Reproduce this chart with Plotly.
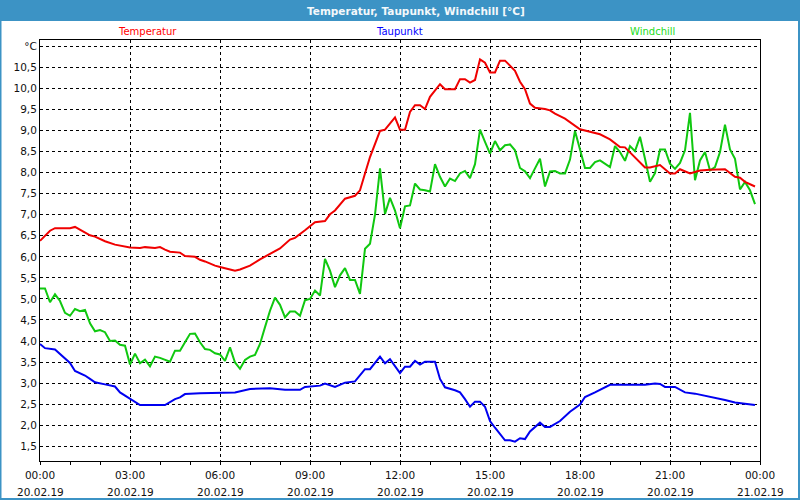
import pandas as pd
import plotly.graph_objects as go

# ---------------- data ----------------
day_start = "2019-02-20 00:00"

temp_minutes = [0, 20, 30, 60, 70, 80, 100, 110, 130, 150, 160, 180, 200, 210, 230, 240, 250, 260, 280, 290,
                310, 320, 330, 350, 360, 390, 400, 420, 440, 460, 480, 500, 510, 530, 550, 570, 580, 590, 610, 630,
                640, 650, 660, 680, 690, 710, 720, 730, 740, 750, 760, 770, 780, 800, 810, 830, 840, 850, 860, 870,
                880, 890, 900, 910, 920, 930, 950, 960, 970, 980, 990, 1010, 1020, 1030, 1050, 1080, 1100, 1120,
                1140, 1160, 1170, 1190, 1210, 1220, 1240, 1260, 1270, 1280, 1300, 1320, 1340, 1370, 1390, 1400,
                1410, 1430]
temp_values = [6.38, 6.62, 6.68, 6.68, 6.71, 6.64, 6.51, 6.48, 6.37, 6.29, 6.27, 6.22, 6.21, 6.23, 6.21, 6.23, 6.17,
               6.12, 6.10, 6.02, 6.00, 5.93, 5.89, 5.79, 5.76, 5.67, 5.70, 5.79, 5.94, 6.07, 6.20, 6.41, 6.45, 6.63,
               6.82, 6.85, 7.01, 7.10, 7.38, 7.45, 7.58, 7.98, 8.37, 8.99, 9.02, 9.31, 9.02, 9.02, 9.44, 9.60, 9.60,
               9.51, 9.80, 10.10, 9.98, 9.98, 10.22, 10.22, 10.14, 10.20, 10.69, 10.61, 10.38, 10.38, 10.66, 10.66,
               10.42, 10.16, 9.98, 9.64, 9.54, 9.51, 9.48, 9.40, 9.28, 9.03, 8.97, 8.91, 8.79, 8.61, 8.60, 8.35,
               8.12, 8.12, 8.18, 7.98, 7.98, 8.08, 7.98, 8.05, 8.07, 8.08, 7.90, 7.88, 7.78, 7.67]

dew_minutes = [0, 10, 30, 40, 60, 70, 90, 100, 110, 130, 150, 160, 180, 200, 250, 270, 280, 290, 320, 360, 390, 420,
               460, 490, 520, 530, 560, 570, 590, 610, 630, 650, 660, 680, 690, 700, 720, 730, 740, 750, 760, 770,
               790, 800, 810, 830, 840, 850, 860, 870, 880, 890, 900, 910, 930, 940, 950, 960, 970, 980, 1000, 1010,
               1020, 1040, 1060, 1080, 1090, 1110, 1140, 1210, 1230, 1240, 1250, 1270, 1290, 1310, 1330, 1350, 1370,
               1390, 1410, 1420, 1430]
dew_values = [3.93, 3.83, 3.80, 3.69, 3.48, 3.29, 3.18, 3.10, 3.02, 2.97, 2.92, 2.78, 2.62, 2.48, 2.48, 2.62, 2.66,
              2.74, 2.76, 2.77, 2.78, 2.86, 2.88, 2.84, 2.84, 2.91, 2.94, 2.99, 2.91, 3.01, 3.04, 3.33, 3.33, 3.63,
              3.47, 3.57, 3.24, 3.39, 3.39, 3.53, 3.44, 3.51, 3.51, 3.10, 2.90, 2.83, 2.78, 2.62, 2.44, 2.56, 2.56,
              2.44, 2.10, 1.94, 1.64, 1.64, 1.61, 1.69, 1.67, 1.85, 2.06, 1.96, 1.96, 2.10, 2.32, 2.49, 2.67, 2.78,
              2.96, 2.96, 2.99, 2.98, 2.91, 2.91, 2.78, 2.75, 2.70, 2.66, 2.60, 2.54, 2.51, 2.48, 2.48]

# windchill: one reading every 10 minutes, 00:00 .. 23:50
chill_values = [5.25, 5.25, 4.92, 5.11, 4.95, 4.67, 4.60, 4.76, 4.71, 4.74, 4.42, 4.23, 4.26, 4.21, 4.00, 4.01,
                3.91, 3.89, 3.44, 3.70, 3.47, 3.56, 3.40, 3.63, 3.60, 3.56, 3.51, 3.77, 3.77, 3.97, 4.17, 4.18,
                3.97, 3.81, 3.79, 3.71, 3.68, 3.53, 3.85, 3.49, 3.34, 3.55, 3.63, 3.67, 3.93, 4.33, 4.72, 5.03,
                4.86, 4.56, 4.70, 4.70, 4.60, 4.97, 5.00, 5.20, 5.08, 5.95, 5.67, 5.28, 5.56, 5.73, 5.45, 5.45,
                5.12, 6.19, 6.31, 7.00, 8.10, 7.02, 7.40, 7.10, 6.68, 7.20, 7.22, 7.74, 7.60, 7.58, 7.55, 8.20,
                7.90, 7.67, 7.86, 7.80, 7.98, 8.04, 7.87, 8.20, 9.02, 8.73, 8.45, 8.75, 8.53, 8.65, 8.67, 8.53,
                8.11, 8.03, 7.87, 8.10, 8.33, 7.67, 8.03, 8.04, 7.98, 7.98, 8.31, 8.99, 8.55, 8.11, 8.11, 8.25,
                8.29, 8.21, 8.13, 8.63, 8.49, 8.28, 8.63, 8.51, 8.85, 8.33, 7.78, 7.99, 8.55, 8.55, 8.21, 8.09,
                8.23, 8.53, 9.42, 7.82, 8.29, 8.49, 8.05, 8.13, 8.49, 9.14, 8.55, 8.33, 7.60, 7.78, 7.58, 7.25]

series_names = ["Temperatur", "Taupunkt", "Windchill"]
chart_title = "Temperatur, Taupunkt, Windchill [°C]"

y_tick_values = [1.5, 2.0, 2.5, 3.0, 3.5, 4.0, 4.5, 5.0, 5.5, 6.0, 6.5, 7.0, 7.5, 8.0, 8.5, 9.0, 9.5, 10.0, 10.5, 11.0]
y_tick_labels = ["1,5", "2,0", "2,5", "3,0", "3,5", "4,0", "4,5", "5,0", "5,5", "6,0", "6,5", "7,0", "7,5",
                 "8,0", "8,5", "9,0", "9,5", "10,0", "10,5", "°C"]

x_tick_values = ["2019-02-20 00:00", "2019-02-20 03:00", "2019-02-20 06:00", "2019-02-20 09:00",
                 "2019-02-20 12:00", "2019-02-20 15:00", "2019-02-20 18:00", "2019-02-20 21:00",
                 "2019-02-21 00:00"]
x_tick_times = ["00:00", "03:00", "06:00", "09:00", "12:00", "15:00", "18:00", "21:00", "00:00"]
x_tick_dates = ["20.02.19", "20.02.19", "20.02.19", "20.02.19", "20.02.19", "20.02.19", "20.02.19",
                "20.02.19", "21.02.19"]

# ---------------- build ----------------
t0 = pd.Timestamp(day_start)
temp_x = t0 + pd.to_timedelta(temp_minutes, unit="min")
dew_x = t0 + pd.to_timedelta(dew_minutes, unit="min")
chill_x = pd.date_range(t0, periods=len(chill_values), freq="10min")

RED, BLUE, GREEN = "#f00000", "#0000f0", "#10c810"
FONT = "DejaVu Sans"
TEXT = "#111111"

fig = go.Figure()
fig.add_trace(go.Scatter(x=chill_x, y=chill_values, mode="lines", name=series_names[2],
                         line=dict(color=GREEN, width=2)))
fig.add_trace(go.Scatter(x=dew_x, y=dew_values, mode="lines", name=series_names[1],
                         line=dict(color=BLUE, width=2)))
fig.add_trace(go.Scatter(x=temp_x, y=temp_values, mode="lines", name=series_names[0],
                         line=dict(color=RED, width=2)))

L, R, T, B = 40, 40, 40, 39
W, H = 800, 500
pw, ph = W - L - R, H - T - B


def px_x(px):
    return (px - L) / pw


def px_y(py):
    return 1 + (T - py) / ph


shapes = [
    # title bar
    dict(type="rect", xref="paper", yref="paper", x0=px_x(0), x1=px_x(W), y0=px_y(21), y1=px_y(0),
         fillcolor="#3c93c5", line=dict(width=0), layer="below"),
    # outer frame
    dict(type="rect", xref="paper", yref="paper", x0=px_x(0.5), x1=px_x(W - 1), y0=px_y(H - 1), y1=px_y(0),
         fillcolor="rgba(0,0,0,0)", line=dict(color="#3c93c5", width=2)),
]

annotations = [
    dict(text=f"<b>{chart_title}</b>", xref="paper", yref="paper", x=px_x(416), y=px_y(10.5),
         showarrow=False, xanchor="center", yanchor="middle",
         font=dict(family=FONT, size=10.5, color="#f4f8fb")),
]
for name, color, cx in zip(series_names, ["#ff0000", "#0000ff", "#22dd22"], [147, 399, 652]):
    annotations.append(dict(text=name, xref="paper", yref="paper", x=px_x(cx), y=px_y(32),
                            showarrow=False, xanchor="center", yanchor="middle",
                            font=dict(family=FONT, size=10, color=color)))
# second row of x tick labels (dates)
for xv, dt in zip(x_tick_values, x_tick_dates):
    annotations.append(dict(text=dt, xref="x", yref="paper", x=xv, y=px_y(492),
                            showarrow=False, xanchor="center", yanchor="middle",
                            font=dict(family=FONT, size=10.5, color=TEXT)))

fig.update_layout(
    width=W, height=H,
    margin=dict(l=L, r=R, t=T, b=B, pad=0, autoexpand=False),
    paper_bgcolor="white", plot_bgcolor="white",
    showlegend=False,
    shapes=shapes, annotations=annotations,
    font=dict(family=FONT, size=11, color=TEXT),
)
fig.update_xaxes(
    type="date", range=[x_tick_values[0], x_tick_values[-1]], automargin=False,
    tickmode="array", tickvals=x_tick_values, ticktext=x_tick_times,
    ticks="outside", ticklen=3, tickcolor="black", tickwidth=1, ticklabelstandoff=1,
    minor=dict(ticks="outside", ticklen=3, tickcolor="black", dtick=3600000, showgrid=False),
    showgrid=True, gridcolor="black", gridwidth=1, griddash="3px,3px",
    showline=True, linecolor="black", linewidth=1, mirror=True,
    zeroline=False, tickfont=dict(family=FONT, size=10.5, color=TEXT),
)
fig.update_yaxes(
    range=[1.15, 11.15], automargin=False,
    tickmode="array", tickvals=y_tick_values, ticktext=y_tick_labels,
    ticks="", showgrid=True, gridcolor="black", gridwidth=1, griddash="3px,3px",
    showline=True, linecolor="black", linewidth=1, mirror=True,
    zeroline=False, tickfont=dict(family=FONT, size=10.5, color=TEXT),
)

fig.write_html("out.html")
